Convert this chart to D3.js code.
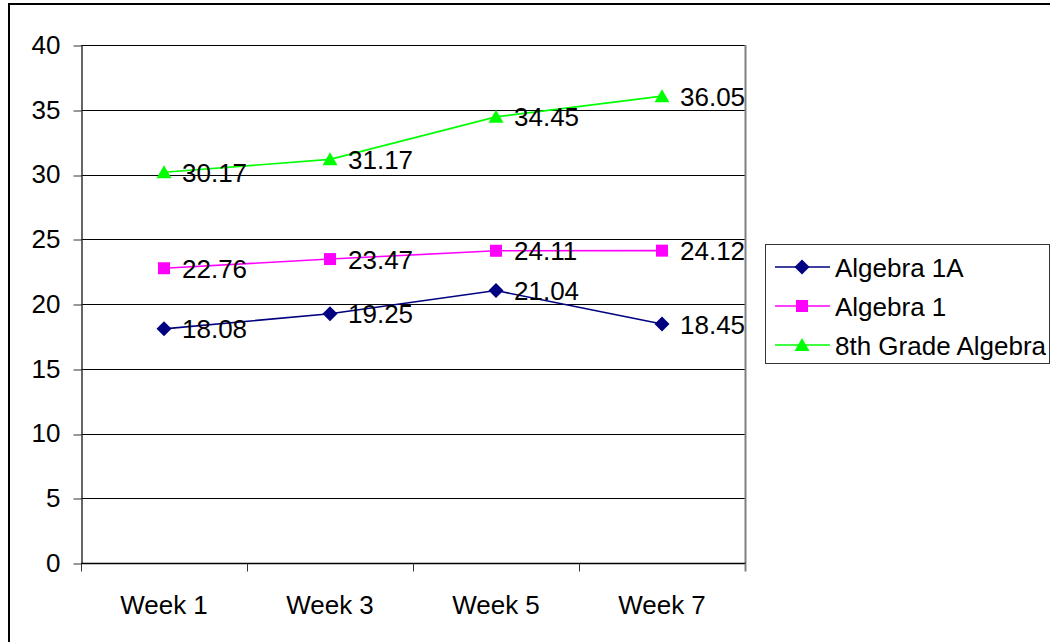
<!DOCTYPE html>
<html>
<head>
<meta charset="utf-8">
<script src="https://cdn.jsdelivr.net/npm/d3@7"></script>
<style>
  html, body { margin: 0; padding: 0; background: #fff; }
  svg { display: block; font-family: Arial, "Liberation Sans", sans-serif; }
</style>
</head>
<body>
<svg id="chart" width="1050" height="642"></svg>
<script>
// Weekly average scores by course
const weeks = ["Week 1", "Week 3", "Week 5", "Week 7"];
const algebra1A = [18.08, 19.25, 21.04, 18.45];
const algebra1 = [22.76, 23.47, 24.11, 24.12];
const grade8Algebra = [30.17, 31.17, 34.45, 36.05];
const yTicks = [0, 5, 10, 15, 20, 25, 30, 35, 40];

const seriesList = [
  { name: "Algebra 1A", values: algebra1A, color: "#000080", marker: "diamond" },
  { name: "Algebra 1", values: algebra1, color: "#FF00FF", marker: "square" },
  { name: "8th Grade Algebra", values: grade8Algebra, color: "#00FF00", marker: "triangle" }
];

const svg = d3.select("#chart");
const plot = { left: 81, right: 745, top: 45, bottom: 563 };
const fontSize = 26;

// Outer chart frame (runs off the right and bottom edges)
svg.append("rect")
  .attr("x", 9).attr("y", 4)
  .attr("width", 1100).attr("height", 700)
  .attr("fill", "#fff").attr("stroke", "#000").attr("stroke-width", 2);

const x = d3.scaleBand().domain(weeks).range([plot.left, plot.right]);
const y = d3.scaleLinear().domain([0, 40]).range([plot.bottom, plot.top]);
const cx = d => x(d) + x.bandwidth() / 2;

// Horizontal gridlines
svg.append("g")
  .selectAll("line")
  .data(yTicks.filter(t => t > 0))
  .join("line")
  .attr("x1", plot.left).attr("x2", plot.right)
  .attr("y1", d => Math.round(y(d)) + 0.5).attr("y2", d => Math.round(y(d)) + 0.5)
  .attr("stroke", "#000").attr("stroke-width", 1);

// Plot area right border
svg.append("line")
  .attr("x1", plot.right + 0.5).attr("x2", plot.right + 0.5)
  .attr("y1", plot.top).attr("y2", plot.bottom)
  .attr("stroke", "#808080").attr("stroke-width", 2);

// Y axis
const yAxis = svg.append("g")
  .attr("transform", `translate(${plot.left + 0.5},0)`)
  .call(d3.axisLeft(y).tickValues(yTicks).tickSize(8).tickPadding(13).tickSizeOuter(0));
yAxis.select(".domain").attr("stroke", "#333").attr("stroke-width", 1.5);
yAxis.selectAll(".tick line").attr("stroke", "#333").attr("transform", d => `translate(0,${Math.round(y(d)) + 0.5 - y(d)})`);
yAxis.selectAll(".tick text")
  .attr("font-size", fontSize).attr("fill", "#000")
  .attr("font-family", "Arial, 'Liberation Sans', sans-serif");

// X axis with ticks on category boundaries
const xAxisG = svg.append("g").attr("transform", `translate(0,${Math.round(plot.bottom) + 0.5})`);
xAxisG.append("line")
  .attr("x1", plot.left).attr("x2", plot.right + 1)
  .attr("stroke", "#000").attr("stroke-width", 1.5);
const boundaries = weeks.map(w => x(w)).concat([plot.right]);
xAxisG.selectAll("line.tick")
  .data(boundaries)
  .join("line")
  .attr("class", "tick")
  .attr("x1", d => Math.round(d) + 0.5).attr("x2", d => Math.round(d) + 0.5)
  .attr("y1", 0).attr("y2", 8)
  .attr("stroke", (d, i) => i === boundaries.length - 1 ? "#808080" : "#333")
  .attr("stroke-width", (d, i) => i === boundaries.length - 1 ? 2 : 1);
xAxisG.selectAll("text")
  .data(weeks)
  .join("text")
  .attr("x", d => cx(d))
  .attr("y", 50)
  .attr("text-anchor", "middle")
  .attr("font-size", fontSize)
  .attr("fill", "#000")
  .text(d => d);

// Marker shapes
function markerPath(type) {
  if (type === "diamond") return "M0,-7.5L7.5,0L0,7.5L-7.5,0Z";
  if (type === "square") return "M-6,-6H6V6H-6Z";
  return "M0,-7L7.5,6H-7.5Z";
}

const line = d3.line().x((d, i) => cx(weeks[i])).y(d => y(d));

seriesList.forEach(s => {
  const g = svg.append("g");
  g.append("path")
    .attr("d", line(s.values))
    .attr("fill", "none")
    .attr("stroke", s.color)
    .attr("stroke-width", 1.6);
  g.selectAll("path.mk")
    .data(s.values)
    .join("path")
    .attr("class", "mk")
    .attr("d", markerPath(s.marker))
    .attr("transform", (d, i) => `translate(${cx(weeks[i])},${y(d)})`)
    .attr("fill", s.color);
});

// Data labels, drawn above all lines
seriesList.forEach(s => {
  svg.append("g").selectAll("text")
    .data(s.values)
    .join("text")
    .attr("x", (d, i) => cx(weeks[i]) + 18)
    .attr("y", d => y(d) + 9.5)
    .attr("font-size", fontSize)
    .attr("fill", "#000")
    .text(d => d.toFixed(2));
});

// Legend
const legend = svg.append("g").attr("transform", "translate(765,244)");
legend.append("rect")
  .attr("x", 0.5).attr("y", 0.5)
  .attr("width", 284).attr("height", 119)
  .attr("fill", "#fff").attr("stroke", "#333").attr("stroke-width", 1);
seriesList.forEach((s, i) => {
  const row = legend.append("g").attr("transform", `translate(0,${23 + i * 39})`);
  row.append("line")
    .attr("x1", 10).attr("x2", 65)
    .attr("stroke", s.color).attr("stroke-width", 1.6);
  row.append("path")
    .attr("d", markerPath(s.marker))
    .attr("transform", "translate(37,0)")
    .attr("fill", s.color);
  row.append("text")
    .attr("x", 70).attr("y", 9.5)
    .attr("font-size", fontSize)
    .attr("fill", "#000")
    .text(s.name);
});
</script>
</body>
</html>
